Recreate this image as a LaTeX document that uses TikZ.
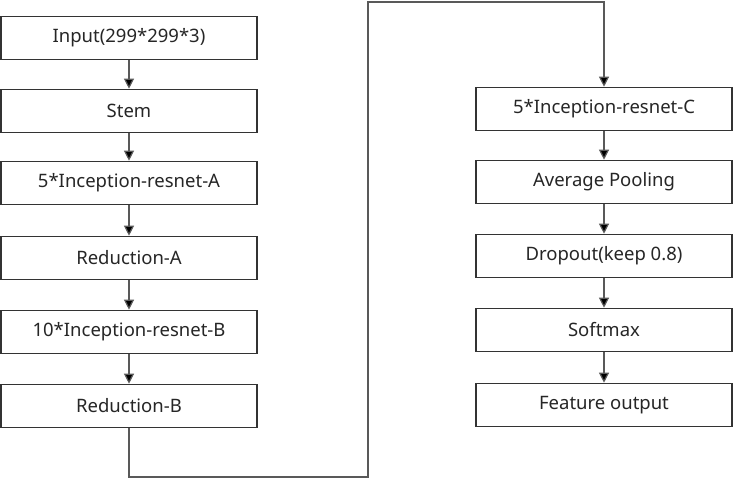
\documentclass[tikz,border=0pt]{standalone}
\usepackage{fontspec}
\setmainfont{Noto Sans}
\usetikzlibrary{arrows.meta}
\begin{document}
\begin{tikzpicture}[x=1pt,y=-1pt,
  blk/.style={draw=black!80,line width=1.6pt,fill=white,minimum width=256pt,minimum height=43pt,inner sep=0pt,font=\fontsize{18.5}{20}\selectfont,text=black!85},
  conn/.style={draw=black!65,line width=1.2pt,-{Triangle[length=10pt,width=10pt,fill=black]}},
  plain/.style={draw=black!60,line width=1.2pt}]
\useasboundingbox (0,0) rectangle (735,481);
\node[blk] (in) at (129,38) {Input(299*299*3)};
\node[blk] (stem) at (129,111) {Stem};
\node[blk] (ra) at (129,183) {5*Inception-resnet-A};
\node[blk] (reda) at (129,258) {Reduction-A};
\node[blk] (rb) at (129,332) {10*Inception-resnet-B};
\node[blk] (redb) at (129,406) {Reduction-B};
\node[blk] (rc) at (604,109) {5*Inception-resnet-C};
\node[blk] (ap) at (604,182) {Average Pooling};
\node[blk] (dr) at (604,256) {Dropout(keep 0.8)};
\node[blk] (sm) at (604,330) {Softmax};
\node[blk] (fo) at (604,405) {Feature output};
\draw[conn] (in) -- (stem);
\draw[conn] (stem) -- (ra);
\draw[conn] (ra) -- (reda);
\draw[conn] (reda) -- (rb);
\draw[conn] (rb) -- (redb);
\draw[conn] (rc) -- (ap);
\draw[conn] (ap) -- (dr);
\draw[conn] (dr) -- (sm);
\draw[conn] (sm) -- (fo);
\coordinate (c1) at (129,477);
\coordinate (c2) at (368,477);
\coordinate (c3) at (368,2);
\coordinate (c4) at (604,2);
\draw[conn] (redb.south) -- (c1) -- (c2) -- (c3) -- (c4) -- (rc.north);
\end{tikzpicture}
\end{document}
